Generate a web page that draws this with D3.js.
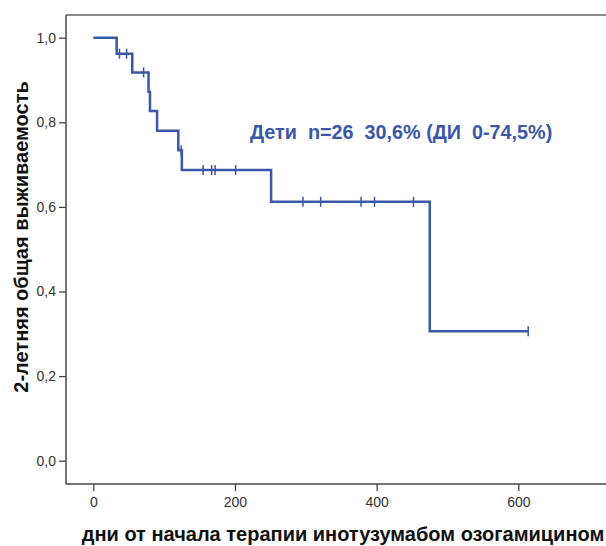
<!DOCTYPE html>
<html><head><meta charset="utf-8">
<script src="https://cdn.jsdelivr.net/npm/d3@7"></script>
<style>html,body{margin:0;padding:0;background:#fff;}svg{display:block;}</style>
</head><body>
<script>
// Kaplan–Meier data
const eventTimes = [0, 33, 55, 78, 80, 90, 120, 125, 251, 475];
const survival   = [1.0, 0.962, 0.918, 0.872, 0.827, 0.780, 0.734, 0.687, 0.612, 0.306];
const censorTimes = [37, 47, 71, 124, 155, 167, 172, 201, 296, 321, 378, 397, 452, 614];
const endTime = 614;
const xTicks = [0, 200, 400, 600];
const yTicks = [0, 0.2, 0.4, 0.6, 0.8, 1.0];
const annotation = "Дети  n=26  30,6% (ДИ  0-74,5%)";
const xTitle = "дни от начала терапии инотузумабом озогамицином";
const yTitle = "2-летняя общая выживаемость";

const W = 606, H = 546;
const curveColor = "#3a57a8";
const font = "Liberation Sans, Arial, sans-serif";
const svg = d3.select("body").append("svg").attr("width", W).attr("height", H);

const x = d3.scaleLinear().domain([0, 600]).range([93.3, 518.3]);
const y = d3.scaleLinear().domain([0, 1]).range([460.7, 37.7]);

const frame = {left: 66, top: 15, bottom: 484, right: 606};
const axisColor = "#444";

// frame lines
svg.append("line").attr("x1", frame.left).attr("x2", frame.right).attr("y1", frame.top).attr("y2", frame.top)
  .attr("stroke", "#666").attr("stroke-width", 1.5);
svg.append("line").attr("x1", frame.left).attr("x2", frame.left).attr("y1", frame.top).attr("y2", frame.bottom)
  .attr("stroke", axisColor).attr("stroke-width", 1.5);
svg.append("line").attr("x1", frame.left).attr("x2", frame.right).attr("y1", frame.bottom).attr("y2", frame.bottom)
  .attr("stroke", axisColor).attr("stroke-width", 1.5);

// y axis
const yAxis = d3.axisLeft(y).tickValues(yTicks).tickSize(7).tickPadding(3)
  .tickFormat(d => d3.format(".1f")(d).replace(".", ","));
const gy = svg.append("g").attr("transform", `translate(${frame.left},0)`).call(yAxis);
gy.select(".domain").remove();
gy.selectAll("line").attr("stroke", axisColor).attr("stroke-width", 1.3);
gy.selectAll("text").attr("font-family", font).attr("font-size", 14).attr("fill", "#333");

// x axis
const xAxis = d3.axisBottom(x).tickValues(xTicks).tickSize(7).tickPadding(6).tickFormat(d3.format("d"));
const gx = svg.append("g").attr("transform", `translate(0,${frame.bottom})`).call(xAxis);
gx.select(".domain").remove();
gx.selectAll("line").attr("stroke", axisColor).attr("stroke-width", 1.3);
gx.selectAll("text").attr("font-family", font).attr("font-size", 14).attr("fill", "#333");

// KM step curve
const pts = eventTimes.map((t, i) => [t, survival[i]]);
pts.push([endTime, survival[survival.length - 1]]);
const line = d3.line().x(d => x(d[0])).y(d => y(d[1])).curve(d3.curveStepAfter);
svg.append("path").datum(pts).attr("d", line).attr("fill", "none")
  .attr("stroke", curveColor).attr("stroke-width", 2.5).attr("stroke-linejoin", "miter");

// censor marks
function survAt(t) {
  let s = survival[0];
  for (let i = 0; i < eventTimes.length; i++) if (eventTimes[i] <= t) s = survival[i];
  return s;
}
svg.append("g").selectAll("line").data(censorTimes).join("line")
  .attr("x1", d => x(d)).attr("x2", d => x(d))
  .attr("y1", d => y(survAt(d)) - 5).attr("y2", d => y(survAt(d)) + 5)
  .attr("stroke", curveColor).attr("stroke-width", 1.5);

// annotation
svg.append("text").attr("x", 250).attr("y", 139).attr("fill", curveColor)
  .attr("font-family", font).attr("font-weight", "bold").attr("font-size", 19.8)
  .style("white-space", "pre").text(annotation);

// axis titles
svg.append("text").attr("x", 343).attr("y", 541).attr("text-anchor", "middle").attr("fill", "#111")
  .attr("font-family", font).attr("font-weight", "bold").attr("font-size", 20)
  .text(xTitle);
svg.append("text").attr("transform", "translate(28,237) rotate(-90)").attr("text-anchor", "middle").attr("fill", "#111")
  .attr("font-family", font).attr("font-weight", "bold").attr("font-size", 20)
  .text(yTitle);
</script>
</body></html>
